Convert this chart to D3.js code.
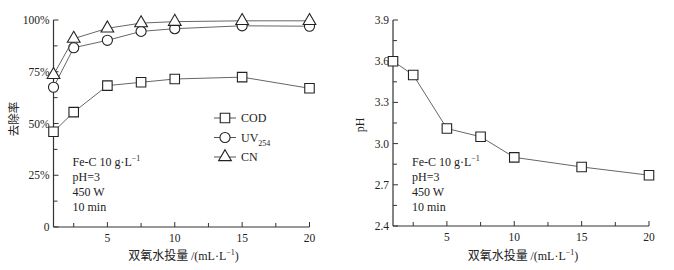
<!DOCTYPE html>
<html>
<head>
<meta charset="utf-8">
<script src="https://cdn.jsdelivr.net/npm/d3@7"></script>
<style>
  body { margin: 0; background: #fff; }
  svg text { font-family: "Liberation Serif", "Times New Roman", serif; fill: #222; }
  .cjk { font-family: "Noto Sans CJK SC", sans-serif; }
</style>
</head>
<body>
<svg id="chart" width="674" height="270"></svg>
<script>
// dosage of H2O2 (mL/L)
const dose = [1, 2.5, 5, 7.5, 10, 15, 20];
// removal rate (%)
const cod = [46, 55.5, 68.3, 69.9, 71.5, 72.4, 67];
const uv254 = [67.5, 86.6, 90.2, 94.5, 95.8, 97.2, 97];
const cn = [73.5, 91, 96, 98.5, 99.2, 99.6, 99.6];
// pH after treatment
const ph = [3.6, 3.5, 3.11, 3.05, 2.9, 2.83, 2.77];

const xTicks = [5, 10, 15, 20];
const xMinor = [2.5, 7.5, 12.5, 17.5];
const leftTicks = [0, 25, 50, 75, 100];
const leftMinor = [12.5, 37.5, 62.5, 87.5];
const rightTicks = [2.4, 2.7, 3.0, 3.3, 3.6, 3.9];
const rightMinor = [2.55, 2.85, 3.15, 3.45, 3.75];
const notes = ["Fe-C 10 g·L", "pH=3", "450 W", "10 min"];

const svg = d3.select("#chart");
const axisColor = "#333";
const lineColor = "#555";

const symSquare = d3.symbol().type(d3.symbolSquare).size(90);
const symCircle = d3.symbol().type(d3.symbolCircle).size(80);
const symTriangle = d3.symbol().type(d3.symbolTriangle).size(70);

function drawPanel(opts) {
  const g = svg.append("g");
  const x = d3.scaleLinear().domain([1, 20]).range([opts.x0, opts.x1]);
  const y = d3.scaleLinear().domain(opts.yDomain).range([opts.yBottom, opts.yTop]);

  // axes (ticks pointing inward)
  g.append("line")
    .attr("x1", opts.x0).attr("x2", opts.x1)
    .attr("y1", opts.yBottom).attr("y2", opts.yBottom)
    .attr("stroke", axisColor).attr("stroke-width", 1.2);
  g.append("line")
    .attr("x1", opts.x0).attr("x2", opts.x0)
    .attr("y1", opts.yBottom).attr("y2", opts.yTop)
    .attr("stroke", axisColor).attr("stroke-width", 1.2);

  g.selectAll(".xt").data(xTicks.concat(xMinor)).join("line")
    .attr("x1", d => x(d)).attr("x2", d => x(d))
    .attr("y1", opts.yBottom).attr("y2", d => opts.yBottom - (xTicks.includes(d) ? 5 : 4))
    .attr("stroke", axisColor);
  g.selectAll(".xl").data(xTicks).join("text")
    .attr("x", d => x(d)).attr("y", opts.yBottom + 15)
    .attr("text-anchor", "middle").attr("font-size", 11.5)
    .text(d => d);

  g.selectAll(".yt").data(opts.yTicks.concat(opts.yMinor)).join("line")
    .attr("x1", opts.x0).attr("x2", d => opts.x0 + (opts.yTicks.includes(d) ? 5 : 4))
    .attr("y1", d => y(d)).attr("y2", d => y(d))
    .attr("stroke", axisColor);
  g.selectAll(".yl").data(opts.yTicks).join("text")
    .attr("x", opts.x0 - 4).attr("y", d => y(d) + 4)
    .attr("text-anchor", "end").attr("font-size", 11.5)
    .text(opts.yFormat);

  // x label
  const xl = g.append("text")
    .attr("x", (opts.x0 + opts.x1) / 2 + 2).attr("y", 260)
    .attr("text-anchor", "middle").attr("font-size", 12);
  xl.append("tspan").attr("class", "cjk").text("双氧水投量 ");
  xl.append("tspan").text("/(mL·L");
  xl.append("tspan").attr("dy", -5).attr("font-size", 8).text("−1");
  xl.append("tspan").attr("dy", 5).text(")");

  // notes
  g.selectAll(".note").data(notes).join("text")
    .attr("x", opts.x0 + 19).attr("y", (d, i) => 166 + i * 15)
    .attr("font-size", 12)
    .each(function (d, i) {
      const t = d3.select(this);
      t.append("tspan").text(d);
      if (i === 0) t.append("tspan").attr("dy", -5).attr("font-size", 8).text("−1");
    });

  return { g, x, y };
}

function drawSeries(p, values, sym) {
  const line = d3.line().x((d, i) => p.x(dose[i])).y(d => p.y(d));
  p.g.append("path").datum(values)
    .attr("d", line).attr("fill", "none")
    .attr("stroke", lineColor).attr("stroke-width", 0.9);
  p.g.selectAll(null).data(values).join("path")
    .attr("d", sym)
    .attr("transform", (d, i) => `translate(${p.x(dose[i])},${p.y(d)})`)
    .attr("fill", "#fff").attr("stroke", "#222").attr("stroke-width", 1.1);
}

// left panel: removal rate
const left = drawPanel({
  x0: 53.5, x1: 309.5, yTop: 20, yBottom: 227,
  yDomain: [0, 100], yTicks: leftTicks, yMinor: leftMinor,
  yFormat: d => d === 0 ? "0" : d + "%"
});
drawSeries(left, cod, symSquare);
drawSeries(left, uv254, symCircle);
drawSeries(left, cn, symTriangle);

left.g.append("text")
  .attr("class", "cjk").attr("font-size", 11.5)
  .attr("transform", "translate(18,119) rotate(-90)")
  .attr("text-anchor", "middle").text("去除率");

// legend
const legend = [
  { name: "COD", sym: symSquare },
  { name: "UV", sub: "254", sym: symCircle },
  { name: "CN", sym: symTriangle }
];
const lg = left.g.selectAll(".lg").data(legend).join("g")
  .attr("transform", (d, i) => `translate(214,${118 + i * 19.5})`);
lg.append("line").attr("x1", 0).attr("x2", 22).attr("stroke", lineColor);
lg.append("path").attr("d", d => d.sym()).attr("transform", "translate(11,0)")
  .attr("fill", "#fff").attr("stroke", "#222").attr("stroke-width", 1.1);
lg.append("text").attr("x", 27).attr("y", 4).attr("font-size", 12)
  .each(function (d) {
    const t = d3.select(this);
    t.append("tspan").text(d.name);
    if (d.sub) t.append("tspan").attr("dy", 4).attr("font-size", 8).text(d.sub);
  });

// right panel: pH
const right = drawPanel({
  x0: 393, x1: 649, yTop: 20, yBottom: 226,
  yDomain: [2.4, 3.9], yTicks: rightTicks, yMinor: rightMinor,
  yFormat: d3.format(".1f")
});
drawSeries(right, ph, symSquare);

right.g.append("text")
  .attr("font-size", 12)
  .attr("transform", "translate(364,125) rotate(-90)")
  .attr("text-anchor", "middle").text("pH");
</script>
</body>
</html>
